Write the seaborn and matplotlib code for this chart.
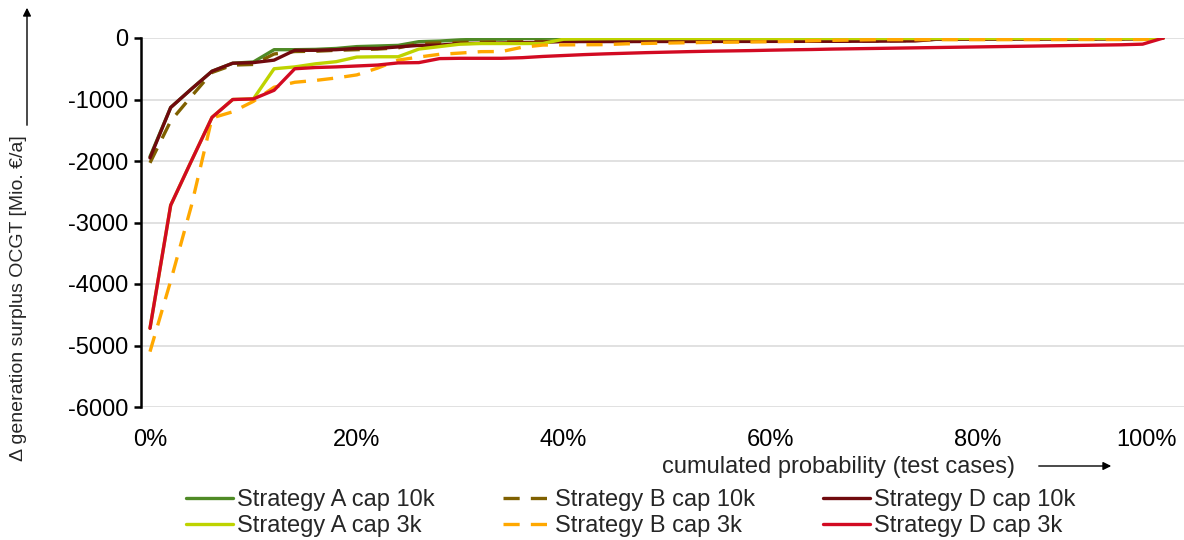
import matplotlib
matplotlib.use("Agg")
import matplotlib.pyplot as plt
import matplotlib.transforms as mtransforms
from matplotlib.ticker import PercentFormatter
import seaborn as sns

# cumulated probability of the test cases in %
prob = [0, 2, 4, 6, 8, 10, 12, 14, 16, 18,
        20, 22, 24, 26, 28, 30, 32, 34, 36, 38,
        40, 42, 44, 46, 48, 50, 52, 54, 56, 58,
        60, 62, 64, 66, 68, 70, 72, 74, 76, 78,
        80, 82, 84, 86, 88, 90, 92, 94, 96, 98]

# delta generation surplus OCGT [Mio. EUR/a]
a_10k = [-1930, -1130, -830, -540, -410, -390, -190, -190, -185, -170,
         -140, -130, -120, -60, -50, -30, -20, -20, -10, -5,
         0, 0, 0, 0, 0, 0, 0, 0, 0, 0,
         0, 0, 0, 0, 0, 0, 0, 0, 0, 0,
         0, 0, 0, 0, 0, 0, 0, 0, 0, 0]
b_10k = [-2030, -1350, -950, -560, -440, -430, -260, -220, -215, -200,
         -190, -180, -160, -90, -80, -70, -65, -62, -60, -58,
         -56, -56, -55, -55, -55, -54, -54, -53, -53, -52,
         -52, -51, -50, -50, -48, -46, -44, -40, -20, -18,
         -17, -16, -16, -15, -15, -14, -13, -12, -10, 0]
d_10k = [-1950, -1130, -830, -540, -410, -400, -360, -200, -200, -190,
         -170, -170, -145, -120, -115, -90, -85, -80, -75, -70,
         -58, -58, -58, -58, -57, -57, -57, -56, -56, -56,
         -55, -55, -54, -54, -53, -52, -50, -48, -22, -22,
         -21, -20, -20, -20, -19, -19, -18, -18, -16, 0]
a_3k = [-4720, -2720, -2000, -1290, -1000, -990, -500, -470, -420, -385,
        -310, -305, -305, -180, -140, -100, -90, -90, -90, -88,
        -20, -15, -12, -10, -10, -10, -10, -10, -10, -10,
        -10, -10, -10, -10, -10, -10, -10, -10, -10, -10,
        -10, -10, -10, -10, -10, -10, -10, -10, -10, 0]
b_3k = [-5100, -3950, -2730, -1300, -1200, -1030, -800, -720, -690, -650,
        -600, -490, -360, -310, -265, -245, -222, -220, -150, -115,
        -112, -110, -108, -95, -88, -82, -77, -72, -68, -64,
        -60, -55, -45, -38, -33, -28, -27, -27, -27, -27,
        -27, -27, -26, -26, -26, -25, -25, -25, -25, 0]
d_3k = [-4720, -2720, -2000, -1290, -1000, -990, -850, -500, -480, -470,
        -455, -440, -405, -400, -335, -330, -330, -330, -320, -300,
        -285, -270, -258, -248, -238, -230, -222, -215, -210, -205,
        -198, -192, -187, -180, -175, -170, -165, -160, -155, -150,
        -145, -140, -135, -130, -125, -120, -115, -110, -100, 0]

dash = (0, (4.85, 3.35))
series = [
    ("Strategy A cap 10k", a_10k, "#4F8A26", "-"),
    ("Strategy B cap 10k", b_10k, "#7F6000", dash),
    ("Strategy D cap 10k", d_10k, "#700A0E", "-"),
    ("Strategy A cap 3k", a_3k, "#BED300", "-"),
    ("Strategy B cap 3k", b_3k, "#FFA800", dash),
    ("Strategy D cap 3k", d_3k, "#D20A22", "-"),
]

sns.set_style("white")
plt.rcParams["font.family"] = ["Liberation Sans", "DejaVu Sans"]
plt.rcParams["axes.unicode_minus"] = False

fs = 17

fig = plt.figure(figsize=(11.84, 5.4), dpi=100)
ax = fig.add_axes([141 / 1184, 1 - 407 / 540, 1 - 141 / 1184, (407 - 38) / 540])

for name, vals, col, ls in series:
    sns.lineplot(x=prob, y=vals, ax=ax, color=col, linestyle=ls,
                 linewidth=2.4, label=name)

ax.set_xlim(-0.87, 100)
ax.set_ylim(-6000, 0)
ax.set_yticks(range(-6000, 1, 1000))
ax.set_xticks([0, 20, 40, 60, 80, 100])
ax.xaxis.set_major_formatter(PercentFormatter(decimals=0))
ax.yaxis.grid(True, color="#D9D9D9", linewidth=1.1)
ax.set_axisbelow(True)

for s in ["top", "right", "bottom"]:
    ax.spines[s].set_visible(False)
ax.spines["left"].set_color("black")
ax.spines["left"].set_linewidth(1.8)

ax.tick_params(axis="y", left=True, length=5, width=1.8, color="black",
               pad=4, labelsize=fs, labelcolor="black")
ax.tick_params(axis="x", bottom=False, length=0, pad=16, labelsize=fs,
               labelcolor="black")

# keep the 100% label inside the figure
last = ax.get_xticklabels()[-1]
last.set_horizontalalignment("right")
last.set_transform(last.get_transform() +
                   mtransforms.ScaledTranslation(-0.07, 0, fig.dpi_scale_trans))

ax.set_xlabel("")
ax.set_ylabel("")

# axis titles with arrows
fig.text(19 / 1184, 1 - 298 / 540, "Δ generation surplus OCGT [Mio. €/a]",
         rotation=90, ha="center", va="center", fontsize=14)
fig.add_artist(matplotlib.patches.FancyArrowPatch(
    (27 / 1184, 1 - 128 / 540), (27 / 1184, 1 - 5 / 540),
    transform=fig.transFigure, arrowstyle="-|>", mutation_scale=12,
    color="black", linewidth=1))
fig.text(838 / 1184, 1 - 467 / 540, "cumulated probability (test cases)",
         ha="center", va="center", fontsize=fs)
fig.add_artist(matplotlib.patches.FancyArrowPatch(
    (1036 / 1184, 1 - 466 / 540), (1114 / 1184, 1 - 466 / 540),
    transform=fig.transFigure, arrowstyle="-|>", mutation_scale=12,
    color="black", linewidth=1))

# legend: three columns, 10k on top row
handles, labels = ax.get_legend_handles_labels()
if ax.get_legend() is not None:
    ax.get_legend().remove()
order = [0, 3, 1, 4, 2, 5]
fig.legend([handles[i] for i in order], [labels[i] for i in order],
           ncol=3, loc="upper left", bbox_to_anchor=(186 / 1184, 1 - 489 / 540),
           frameon=False, fontsize=fs, handlelength=2.0, handletextpad=0.17,
           columnspacing=2.9, labelspacing=0.16, borderpad=0, borderaxespad=0)

fig.savefig("out.png", dpi=100)
